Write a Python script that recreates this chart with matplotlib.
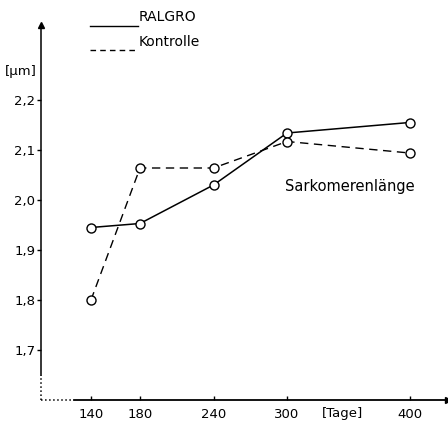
import matplotlib
matplotlib.use("Agg")
import matplotlib.pyplot as plt

days = [140, 180, 240, 300, 400]
ralgro = [1.945, 1.953, 2.030, 2.134, 2.155]
kontrolle = [1.800, 2.064, 2.064, 2.117, 2.094]
yticks = [1.7, 1.8, 1.9, 2.0, 2.1, 2.2]
ytick_labels = ["1,7", "1,8", "1,9", "2,0", "2,1", "2,2"]

plt.rcParams['font.family'] = ['DejaVu Sans']
fig = plt.figure(figsize=(4.48, 4.25), dpi=100)
ax = fig.add_axes([41/448, 25/425, 1 - 41/448, (400-25)/425])
ax.set_xlim(99.2, 431.4)
ax.set_ylim(1.6, 2.35)

ax.plot(days, ralgro, '-', color='black', lw=1.1, marker='o', ms=6.5,
        mfc='white', mec='black', mew=1.0, zorder=3)
ax.plot(days, kontrolle, '--', color='black', lw=1.0, dashes=(6, 4), marker='o', ms=6.5,
        mfc='white', mec='black', mew=1.0, zorder=3)

for s in ['top', 'right']:
    ax.spines[s].set_visible(False)
ax.spines['left'].set_bounds(1.65, 2.35)
ax.spines['bottom'].set_bounds(126, 431.4)
ax.spines['left'].set_linewidth(1.1)
ax.spines['bottom'].set_linewidth(1.3)
# dotted continuations
ax.plot([99.4, 99.4], [1.6, 1.65], ':', color='black', lw=1.1, clip_on=False)
ax.plot([99.4, 124], [1.6, 1.6], ':', color='black', lw=1.1, clip_on=False)
# arrows
ax.plot([0], [1], marker='^', color='black', ms=4, transform=ax.transAxes, clip_on=False)
ax.plot([1], [0], marker='>', color='black', ms=4, transform=ax.transAxes, clip_on=False)

ax.set_yticks(yticks)
ax.set_yticklabels(ytick_labels, fontsize=9.5)
ax.tick_params(axis='y', direction='out', length=3, width=1, pad=1)
ax.set_xticks(days)
ax.set_xticklabels([str(d) for d in days], fontsize=9.5)
ax.tick_params(axis='x', direction='in', length=3, width=1, pad=6)

fig.text(21/448, 1 - 72/425, "[µm]", fontsize=9.5, ha='center', va='center')
ax.text(345, 1.6 - 0.026, "[Tage]", fontsize=9.5, ha='center', va='center')
ax.text(351, 2.028, "Sarkomerenlänge", fontsize=10.5, ha='center', va='center')

# legend
fig.lines.append(plt.Line2D([90/448, 138/448], [1 - 26/425, 1 - 26/425], color='black', lw=1.0, transform=fig.transFigure))
fig.lines.append(plt.Line2D([90/448, 138/448], [1 - 50/425, 1 - 50/425], color='black', lw=1.0, ls='--', dashes=(4, 3), transform=fig.transFigure))
fig.text(139/448, 1 - 17/425, "RALGRO", fontsize=10, ha='left', va='center')
fig.text(139/448, 1 - 42/425, "Kontrolle", fontsize=10, ha='left', va='center')

fig.savefig("out.png", dpi=100)
